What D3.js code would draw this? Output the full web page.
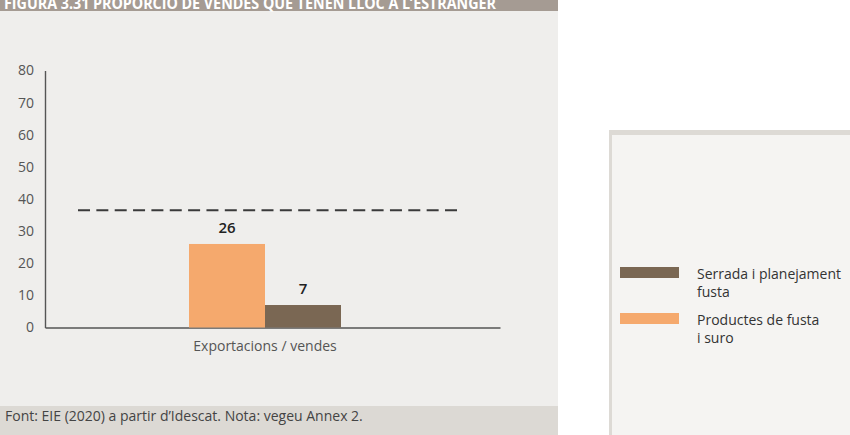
<!DOCTYPE html>
<html>
<head>
<meta charset="utf-8">
<script src="https://cdn.jsdelivr.net/npm/d3@7"></script>
<style>
  body { margin: 0; background: #ffffff; }
  svg { display: block; }
</style>
</head>
<body>
<div id="chart"></div>
<script>
// Data
const categories = ["Exportacions / vendes"];
const seriesNames = ["Productes de fusta i suro", "Serrada i planejament fusta"];
const seriesValues = [26, 7];
const referenceValue = 36.5;
const yTicks = [0, 10, 20, 30, 40, 50, 60, 70, 80];
const legendItems = [
    { lines: ["Serrada i planejament", "fusta"], color: "#7a6753" },
    { lines: ["Productes de fusta", "i suro"], color: "#f5a96d" }
];
const barColors = ["#f5a96d", "#7a6753"];

const fontFamily = "'Open Sans', sans-serif";

const svg = d3.select("#chart")
    .append("svg")
    .attr("width", 850)
    .attr("height", 435);

// Panels
svg.append("rect").attr("x", 0).attr("y", 0).attr("width", 558).attr("height", 435).attr("fill", "#efeeec");
svg.append("rect").attr("x", 0).attr("y", 0).attr("width", 558).attr("height", 11).attr("fill", "#a59b93");
svg.append("rect").attr("x", 0).attr("y", 406).attr("width", 558).attr("height", 29).attr("fill", "#dcd9d4");

// Title (cut off at top, as in the source)
svg.append("text")
    .attr("x", 4)
    .attr("y", 9)
    .attr("fill", "#ffffff")
    .style("font-family", fontFamily)
    .style("font-weight", "bold")
    .style("font-size", "16px")
    .attr("textLength", 492)
    .attr("lengthAdjust", "spacingAndGlyphs")
    .text("FIGURA 3.31 PROPORCIÓ DE VENDES QUE TENEN LLOC A L’ESTRANGER");

// Footer
svg.append("text")
    .attr("x", 5)
    .attr("y", 421)
    .attr("fill", "#444")
    .style("font-family", fontFamily)
    .style("font-size", "14px")
    .text("Font: EIE (2020) a partir d’Idescat. Nota: vegeu Annex 2.");

// Scales
const yScale = d3.scaleLinear()
    .domain([0, 80])
    .range([327.5, 70.5]);

const xScale = d3.scaleBand()
    .domain(categories)
    .range([45, 500])
    .paddingInner(0)
    .paddingOuter(0);

const xSub = d3.scaleBand()
    .domain(seriesNames)
    .range([0, 152]);

const groupOffset = 189 - 45;

// Y axis
const yAxis = svg.append("g")
    .attr("transform", "translate(45,0)")
    .call(d3.axisLeft(yScale).tickValues(yTicks).tickSize(0).tickPadding(11));
yAxis.select(".domain").attr("stroke", "#555").attr("stroke-width", 1.4);
yAxis.selectAll("text")
    .attr("fill", "#555")
    .style("font-family", fontFamily)
    .style("font-size", "14px");

// X axis line
const xAxis = svg.append("g")
    .attr("transform", `translate(0,${yScale(0)})`)
    .call(d3.axisBottom(xScale).tickSize(0).tickPadding(14).tickSizeOuter(0));
xAxis.select(".domain").attr("stroke", "#555").attr("stroke-width", 1.4);
xAxis.selectAll("text")
    .attr("x", 265 - (45 + 500) / 2)
    .attr("fill", "#555")
    .style("font-family", fontFamily)
    .style("font-size", "14px");

// Bars
const bars = svg.append("g");
bars.selectAll("rect")
    .data(seriesValues)
    .enter()
    .append("rect")
    .attr("x", (d, i) => xScale(categories[0]) + groupOffset + xSub(seriesNames[i]))
    .attr("y", d => yScale(d))
    .attr("width", xSub.bandwidth())
    .attr("height", d => yScale(0) - yScale(d))
    .attr("fill", (d, i) => barColors[i]);

// Bar value labels
bars.selectAll("text")
    .data(seriesValues)
    .enter()
    .append("text")
    .attr("x", (d, i) => xScale(categories[0]) + groupOffset + xSub(seriesNames[i]) + xSub.bandwidth() / 2)
    .attr("y", d => yScale(d) - 11)
    .attr("text-anchor", "middle")
    .attr("fill", "#222")
    .style("font-family", fontFamily)
    .style("font-weight", "600")
    .style("font-size", "15px")
    .text(d => d);

// Reference dashed line
svg.append("line")
    .attr("x1", 78)
    .attr("x2", 461)
    .attr("y1", yScale(referenceValue))
    .attr("y2", yScale(referenceValue))
    .attr("stroke", "#3a3a3a")
    .attr("stroke-width", 2.2)
    .attr("stroke-dasharray", "12,6.35");

// Legend panel
svg.append("rect").attr("x", 609).attr("y", 130).attr("width", 241).attr("height", 305).attr("fill", "#dddad5");
svg.append("rect").attr("x", 612).attr("y", 135).attr("width", 238).attr("height", 300).attr("fill", "#f5f4f2");

const legend = svg.append("g")
    .selectAll("g")
    .data(legendItems)
    .enter()
    .append("g")
    .attr("transform", (d, i) => `translate(620,${267 + i * 46})`);

legend.append("rect")
    .attr("width", 59)
    .attr("height", 11)
    .attr("fill", d => d.color);

legend.append("text")
    .attr("x", 77)
    .attr("y", 12)
    .attr("fill", "#333")
    .style("font-family", fontFamily)
    .style("font-size", "14px")
    .selectAll("tspan")
    .data(d => d.lines)
    .enter()
    .append("tspan")
    .attr("x", 77)
    .attr("dy", (d, i) => i === 0 ? 0 : 18)
    .text(d => d);
</script>
</body>
</html>
